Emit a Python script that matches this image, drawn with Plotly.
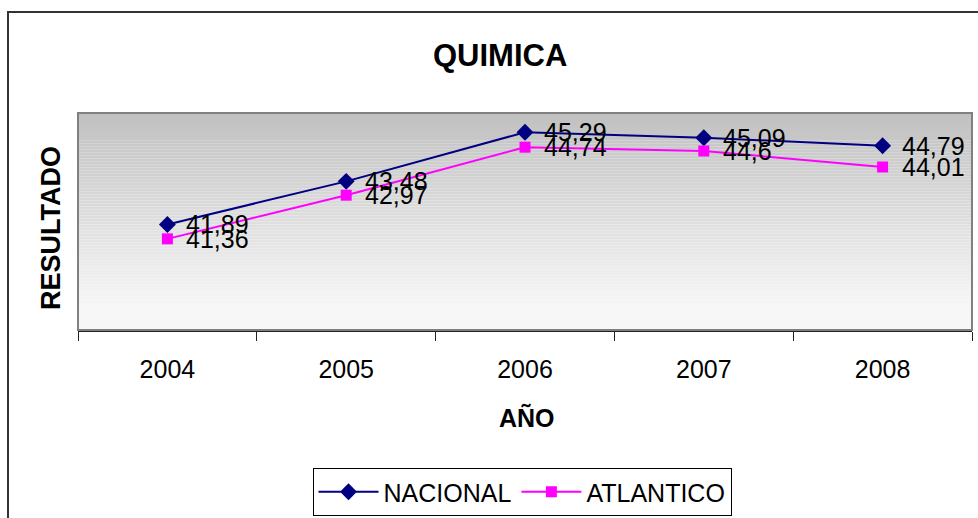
import plotly.graph_objects as go

years = ["2004", "2005", "2006", "2007", "2008"]
nacional = [41.89, 43.48, 45.29, 45.09, 44.79]
atlantico = [41.36, 42.97, 44.74, 44.6, 44.01]
nacional_labels = ["41,89", "43,48", "45,29", "45,09", "44,79"]
atlantico_labels = ["41,36", "42,97", "44,74", "44,6", "44,01"]

# category positions on the axis
xpos = list(range(len(years)))
bounds = [i - 0.5 for i in range(len(years) + 1)]

W, H = 978, 518
L, R, T, B = 78, 6, 113, 188
PW, PH = W - L - R, H - T - B

def px_x(p):
    return (p - L) / PW

def px_y(p):
    return (H - B - p) / PH

FONT = "Liberation Sans, Arial, sans-serif"

fig = go.Figure()
fig.add_trace(go.Scatter(
    x=xpos, y=nacional, name="NACIONAL", mode="lines+markers",
    line=dict(color="#000080", width=2),
    marker=dict(symbol="diamond", size=13, color="#000080"),
    cliponaxis=False,
))
fig.add_trace(go.Scatter(
    x=xpos, y=atlantico, name="ATLANTICO", mode="lines+markers",
    line=dict(color="#FF00FF", width=2),
    marker=dict(symbol="square", size=11, color="#FF00FF"),
    cliponaxis=False,
))

annotations = []
for ys, labs in [(nacional, nacional_labels), (atlantico, atlantico_labels)]:
    for xv, yv, lab in zip(xpos, ys, labs):
        annotations.append(dict(
            x=xv, y=yv, xref="x", yref="y", text=lab, showarrow=False,
            xanchor="left", yanchor="middle", xshift=17,
            font=dict(family=FONT, size=25, color="black"),
        ))

# titles
annotations.append(dict(
    x=px_x(500), y=px_y(55), xref="paper", yref="paper", text="<b>QUIMICA</b>",
    showarrow=False, xanchor="center", yanchor="middle",
    font=dict(family=FONT, size=31, color="black"),
))
annotations.append(dict(
    x=px_x(51), y=px_y(228), xref="paper", yref="paper", text="<b>RESULTADO</b>",
    showarrow=False, textangle=-90, xanchor="center", yanchor="middle",
    font=dict(family=FONT, size=27, color="black"),
))
annotations.append(dict(
    x=px_x(527), y=px_y(417), xref="paper", yref="paper", text="<b>AÑO</b>",
    showarrow=False, xanchor="center", yanchor="middle",
    font=dict(family=FONT, size=25, color="black"),
))

shapes = []
# gradient background bands
n = 72
for i in range(n):
    y_top = 1 - i / n
    y_bot = 1 - (i + 1) / n
    t = (i + 0.5) / n
    v = int(round(192 + (247 - 192) * min(1.0, t / 0.9)))
    shapes.append(dict(
        type="rect", xref="paper", yref="paper", x0=0, x1=1, y0=y_bot, y1=y_top,
        fillcolor=f"rgb({v},{v},{v})", line=dict(width=0), layer="below",
    ))
# plot area border
shapes.append(dict(
    type="rect", xref="paper", yref="paper", x0=0, x1=1, y0=0, y1=1,
    line=dict(color="#808080", width=2), layer="above",
))
# outer chart border (cropped at right and bottom)
shapes.append(dict(
    type="rect", xref="paper", yref="paper",
    x0=px_x(8), x1=px_x(1010), y0=px_y(560), y1=px_y(12),
    line=dict(color="#333333", width=2), fillcolor="rgba(0,0,0,0)", layer="below",
))

fig.update_layout(
    width=W, height=H,
    margin=dict(l=L, r=R, t=T, b=B, autoexpand=False),
    paper_bgcolor="white", plot_bgcolor="white",
    font=dict(family=FONT, size=25, color="black"),
    showlegend=True,
    legend=dict(
        orientation="h", x=px_x(522), y=px_y(468), xanchor="center", yanchor="top",
        bordercolor="black", borderwidth=1, bgcolor="white",
        font=dict(family=FONT, size=25, color="black"),
        itemwidth=60, tracegroupgap=0,
    ),
    annotations=annotations,
    shapes=shapes,
)
fig.update_xaxes(
    type="linear", range=[bounds[0], bounds[-1]],
    tickmode="array", tickvals=xpos, ticktext=years,
    showgrid=False, showline=True, linecolor="#222222", linewidth=2,
    ticks="", ticklen=0,
    minor=dict(tickmode="array", tickvals=bounds, ticks="outside", ticklen=9,
               tickcolor="#222222", tickwidth=1, showgrid=False),
    tickfont=dict(family=FONT, size=25, color="black"),
    ticklabelstandoff=16, zeroline=False, tickangle=0,
)
fig.update_yaxes(
    range=[38, 46], showgrid=False, showticklabels=False, ticks="",
    showline=False, zeroline=False,
)

fig.write_html(
    "out.html",
    config={"displayModeBar": False},
    post_script="document.body.style.margin='0';document.body.style.overflow='hidden';",
)
